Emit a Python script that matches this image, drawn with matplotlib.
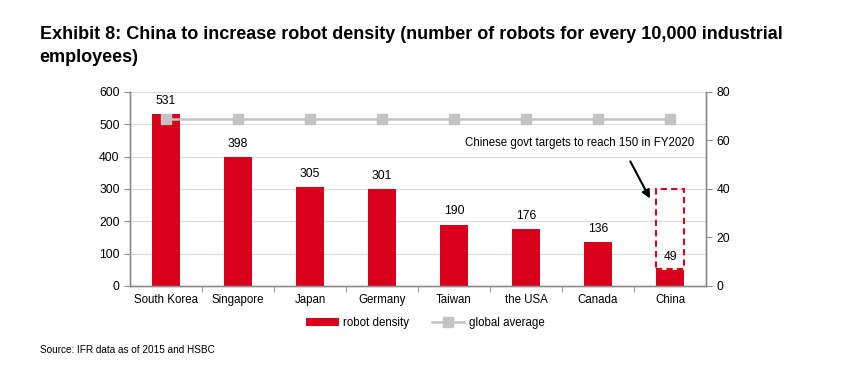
import matplotlib

matplotlib.use("Agg")
import matplotlib.pyplot as plt
from matplotlib.patches import Rectangle

plt.rcParams["font.family"] = ["Liberation Sans", "DejaVu Sans"]

countries = ["South Korea", "Singapore", "Japan", "Germany", "Taiwan",
             "the USA", "Canada", "China"]
robot_density = [531, 398, 305, 301, 190, 176, 136, 49]
global_average = [69, 69, 69, 69, 69, 69, 69, 69]
china_target = 300  # top of dashed box, left-axis units

RED = "#D9001B"
GREY = "#C3C3C3"
AXIS = "#8C8C8C"
FS = 8.3

fig = plt.figure(figsize=(8.41, 3.77), dpi=100)
ax = fig.add_axes([0.1546, 0.2414, 0.6849, 0.5146])
ax2 = ax.twinx()

x = list(range(len(countries)))
ax.bar(x, robot_density, width=0.4, color=RED, zorder=2, label="robot density")
for xi, v in zip(x, robot_density):
    ax.text(xi, v + 22, str(v), ha="center", va="bottom", fontsize=FS + 0.4)

ax2.plot(x, global_average, color=GREY, lw=1.8, marker="s", ms=7,
         label="global average", zorder=3)

ax.set_xlim(-0.5, len(countries) - 0.5)
ax.set_ylim(0, 600)
ax2.set_ylim(0, 80)
ax.set_yticks(range(0, 601, 100))
ax2.set_yticks(range(0, 81, 20))
ax.yaxis.grid(True, color="#DCDCDC", lw=0.8, zorder=0)
ax.set_axisbelow(True)

ax.set_xticks(x)
ax.set_xticklabels(countries, fontsize=FS)
ax.set_xticks([i + 0.5 for i in x[:-1]], minor=True)
ax.tick_params(axis="x", which="major", length=0, pad=6)
ax.tick_params(axis="x", which="minor", length=4, color=AXIS)
ax.tick_params(axis="y", labelsize=FS + 0.4, length=4, color=AXIS)
ax2.tick_params(axis="y", labelsize=FS + 0.4, length=4, color=AXIS)

for a in (ax, ax2):
    a.spines["top"].set_visible(False)
    for s in ("left", "right", "bottom"):
        a.spines[s].set_color(AXIS)
        a.spines[s].set_linewidth(1.0)

# dashed target box around China
ax.add_patch(Rectangle((7 - 0.2, 52), 0.4, china_target - 52, fill=False,
                       edgecolor=RED, ls=(0, (3, 2)), lw=1.5, zorder=4))
ax.annotate("", xy=(6.74, 263), xytext=(6.43, 393),
            arrowprops=dict(arrowstyle="-|>", color="black", lw=1.5,
                            mutation_scale=12))
ax.text(5.75, 442, "Chinese govt targets to reach 150 in FY2020",
        ha="center", va="center", fontsize=FS)

h1, l1 = ax.get_legend_handles_labels()
h2, l2 = ax2.get_legend_handles_labels()
fig.legend(h1 + h2, l1 + l2, loc="center", bbox_to_anchor=(0.506, 0.143),
           ncol=2, frameon=False, fontsize=FS, handlelength=2.8,
           columnspacing=2.0, handletextpad=0.4)

fig.text(0.047, 0.878, "Exhibit 8: China to increase robot density (number of robots for every 10,000 industrial\nemployees)",
         ha="left", va="center", fontsize=13, fontweight="bold", linespacing=1.4)
fig.text(0.047, 0.072, "Source: IFR data as of 2015 and HSBC", ha="left",
         va="center", fontsize=7.2)

fig.savefig("out.png", dpi=100)
